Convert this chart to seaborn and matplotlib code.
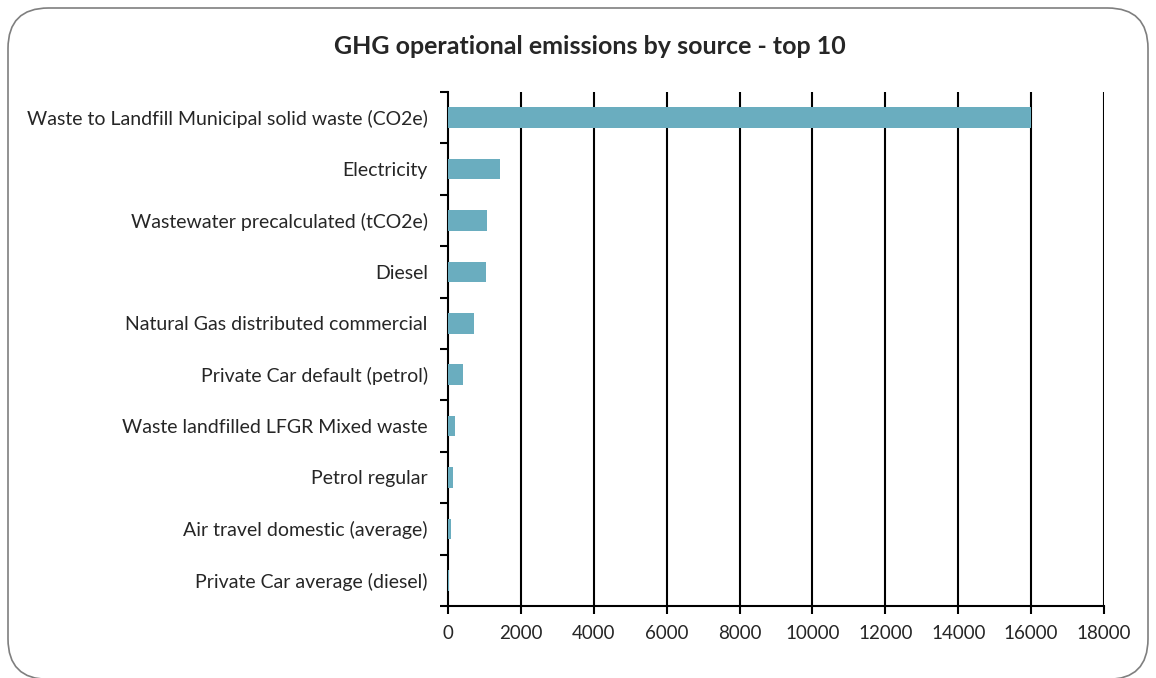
import matplotlib.pyplot as plt
import pandas as pd
import seaborn as sns
from matplotlib.patches import FancyBboxPatch
from matplotlib.ticker import FixedLocator

SOURCES = [
    "Waste to Landfill Municipal solid waste (CO2e)",
    "Electricity",
    "Wastewater precalculated (tCO2e)",
    "Diesel",
    "Natural Gas distributed commercial",
    "Private Car default (petrol)",
    "Waste landfilled LFGR Mixed waste",
    "Petrol regular",
    "Air travel domestic (average)",
    "Private Car average (diesel)",
]
EMISSIONS = [16000, 1440, 1080, 1035, 705, 410, 200, 150, 95, 40]
X_TICKS = list(range(0, 18001, 2000))

BAR_COLOR = "#6AADBF"

sns.set_theme(style="white")
plt.rcParams["font.family"] = ["Lato", "DejaVu Sans"]

data = pd.DataFrame({"source": SOURCES, "emissions": EMISSIONS})

fig = plt.figure(figsize=(11.56, 6.78), dpi=100)
ax = fig.add_axes([448 / 1156, 1 - 606 / 678, 656 / 1156, 514 / 678])

sns.barplot(data=data, x="emissions", y="source", color=BAR_COLOR,
            width=0.4, saturation=1, linewidth=0, ax=ax, zorder=3)

ax.set_xlim(0, 18000)
ax.set_ylim(9.5, -0.5)
ax.set_xticks(X_TICKS)
ax.set_xticklabels([str(t) for t in X_TICKS], fontsize=13.5)
ax.set_xlabel("")
ax.set_ylabel("")
ax.tick_params(axis="y", which="major", length=0, pad=14.5, labelsize=14)
ax.yaxis.set_minor_locator(FixedLocator([i - 0.5 for i in range(11)]))
ax.tick_params(axis="y", which="minor", length=6, width=1.5, color="black", direction="out", left=True)
ax.tick_params(axis="x", length=6, width=1.5, color="black", direction="out", bottom=True, pad=8)

for t in X_TICKS[1:]:
    ax.axvline(t, color="black", lw=1.5, zorder=1)

for side in ("top", "right"):
    ax.spines[side].set_visible(False)
for side in ("left", "bottom"):
    ax.spines[side].set_color("black")
    ax.spines[side].set_linewidth(1.5)

fig.text(590 / 1156, 1 - 46 / 678, "GHG operational emissions by source - top 10",
         ha="center", va="center", fontsize=18, fontweight="bold")

frame = FancyBboxPatch((8 / 1156, -0.002), 1140 / 1156, 1 - 8 / 678 + 0.002,
                       boxstyle="round,pad=0,rounding_size=0.035",
                       transform=fig.transFigure, fill=False,
                       edgecolor="#7F7F7F", lw=1.2, mutation_aspect=1156 / 678)
fig.patches.append(frame)

fig.savefig("out.png", dpi=100)
